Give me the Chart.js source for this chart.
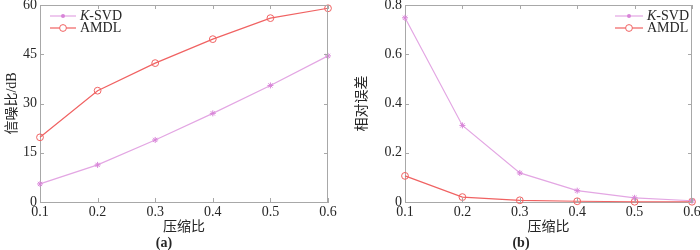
<!DOCTYPE html>
<html><head><meta charset="utf-8">
<script src="https://cdn.jsdelivr.net/npm/chart.js@4.4.1/dist/chart.umd.min.js"></script>
<style>
html,body{margin:0;padding:0;background:#fff;}
#wrap{position:relative;width:700px;height:250px;}
.c{position:absolute;top:0;width:350px;height:250px;}
</style></head>
<body><div id="wrap">
<div class="c" style="left:0"><canvas id="ca" width="350" height="250"></canvas></div>
<div class="c" style="left:350px"><canvas id="cb" width="350" height="250"></canvas></div>
</div>
<script>
const ratios = [0.1, 0.2, 0.3, 0.4, 0.5, 0.6];
const seriesNames = ['K-SVD', 'AMDL'];
const snrKSVD = [5.5, 11.3, 18.9, 27.0, 35.5, 44.5];
const snrAMDL = [19.7, 33.9, 42.3, 49.6, 56.0, 59.0];
const errKSVD = [0.748, 0.311, 0.118, 0.046, 0.017, 0.005];
const errAMDL = [0.106, 0.020, 0.007, 0.003, 0.001, 0.001];
const snrTicks = [0, 15, 30, 45, 60];
const errTicks = [0, 0.2, 0.4, 0.6, 0.8];

const PINK = '#d884d8', PINKL = '#e3a6e3', RED = '#f06262';
const GREY = '#a8a8a8', TXT = '#262626';
const SERIF = '"Liberation Serif", "Times New Roman", Times, serif';
const CJK = '"Liberation Serif", "Noto Sans CJK SC", serif';

function pts(vals){ return ratios.map((r,i)=>({x:r,y:vals[i]})); }

const frame = {
  id:'frame',
  afterDraw(chart){
    const {ctx, chartArea:a, scales:{x,y}} = chart;
    ctx.save();
    ctx.strokeStyle = GREY; ctx.lineWidth = 1;
    ctx.beginPath();
    ctx.moveTo(a.left, a.top+0.5); ctx.lineTo(a.right, a.top+0.5);
    ctx.moveTo(a.right-0.5, a.top); ctx.lineTo(a.right-0.5, a.bottom);
    const L = 4;
    x.ticks.forEach(t=>{ const px = Math.round(x.getPixelForValue(t.value))+0.5;
      ctx.moveTo(px, a.bottom); ctx.lineTo(px, a.bottom-L);
      ctx.moveTo(px, a.top); ctx.lineTo(px, a.top+L); });
    y.ticks.forEach(t=>{ const py = Math.round(y.getPixelForValue(t.value))+0.5;
      ctx.moveTo(a.left, py); ctx.lineTo(a.left+L, py);
      ctx.moveTo(a.right, py); ctx.lineTo(a.right-L, py); });
    ctx.stroke();
    const lg = chart.options.plugins.myLegend;
    chart.data.datasets.forEach((ds,i)=>{
      const yy = lg.y + i*12;
      ctx.strokeStyle = ds.borderColor; ctx.lineWidth = 1.2;
      ctx.beginPath(); ctx.moveTo(lg.x, yy); ctx.lineTo(lg.x+lg.w, yy); ctx.stroke();
      const mx = lg.x + lg.w/2;
      if (ds.pointStyle === 'circle'){
        ctx.beginPath(); ctx.fillStyle='#fff'; ctx.arc(mx, yy, 3.4, 0, Math.PI*2); ctx.fill();
        ctx.strokeStyle = ds.pointBorderColor; ctx.lineWidth = 1; ctx.stroke();
      } else {
        ctx.fillStyle = ds.pointBorderColor; ctx.beginPath(); ctx.arc(mx, yy, 2, 0, Math.PI*2); ctx.fill();
      }
      ctx.fillStyle = TXT; ctx.textBaseline = 'middle'; ctx.textAlign='left';
      let tx = lg.x + lg.w + 4;
      const name = ds.label;
      if (name.startsWith('K-')){
        ctx.font = 'italic 14px ' + SERIF; ctx.fillText('K', tx, yy);
        tx += ctx.measureText('K').width;
        ctx.font = '14px ' + SERIF; ctx.fillText(name.slice(1), tx, yy);
      } else {
        ctx.font = '14px ' + SERIF; ctx.fillText(name, tx, yy);
      }
    });
    ctx.restore();
  }
};

function makeChart(id, kVals, aVals, yTicks, yMax, yTitle, sub, yWidth, padRight, legend, fmt){
  return new Chart(document.getElementById(id), {
    type:'line',
    data:{ datasets:[
      {label:seriesNames[0], data:pts(kVals), borderColor:PINKL, pointBorderColor:PINK, pointBackgroundColor:PINK,
       pointStyle:'star', pointRadius:3, borderWidth:1.2, pointBorderWidth:1, clip:false, tension:0},
      {label:seriesNames[1], data:pts(aVals), borderColor:RED, pointBorderColor:RED, pointBackgroundColor:'rgba(255,255,255,0)',
       pointStyle:'circle', pointRadius:3.4, borderWidth:1.2, pointBorderWidth:1, clip:false, tension:0}
    ]},
    options:{
      responsive:false, animation:false, devicePixelRatio:1,
      layout:{padding:{top:5, right:padRight, left:0, bottom:0}},
      plugins:{
        legend:{display:false}, tooltip:{enabled:false},
        title:{display:true, position:'bottom', text:sub, color:TXT, padding:0,
          font:{family:SERIF, size:14, weight:'bold', lineHeight:1}},
        myLegend: legend
      },
      scales:{
        x:{type:'linear', min:0.1, max:0.6,
          afterBuildTicks(s){ s.ticks = ratios.map(v=>({value:v})); },
          afterFit(s){ s.height = 34; s.paddingRight = 0; s.paddingLeft = 0; },
          grid:{display:false, drawTicks:false},
          border:{display:true, color:GREY},
          ticks:{padding:2, color:TXT, font:{family:SERIF, size:14}, callback:v=>v.toFixed(1), maxRotation:0, autoSkip:false},
          title:{display:true, text:'压缩比', color:TXT, padding:{top:0,bottom:0}, font:{family:CJK, size:14}}
        },
        y:{type:'linear', min:0, max:yMax,
          afterBuildTicks(s){ s.ticks = yTicks.map(v=>({value:v})); },
          afterFit(s){ s.width = yWidth; s.paddingTop = 0; s.paddingBottom = 0; },
          grid:{display:false, drawTicks:false},
          border:{display:true, color:GREY},
          ticks:{padding:3, color:TXT, font:{family:SERIF, size:14}, callback:fmt, autoSkip:false},
          title:{display:true, text:yTitle, color:TXT, padding:{top:4,bottom:0}, font:{family:CJK, size:14}}
        }
      }
    },
    plugins:[frame]
  });
}

function build(){
  makeChart('ca', snrKSVD, snrAMDL, snrTicks, 60, '信噪比/dB', '(a)', 40, 22, {x:50, y:16, w:26}, v=>String(v));
  makeChart('cb', errKSVD, errAMDL, errTicks, 0.8, '相对误差', '(b)', 55, 8, {x:265, y:16, w:28}, v=>(v===0?'0':v.toFixed(1)));
}
Promise.all([
  document.fonts.load('14px "Liberation Serif"'),
  document.fonts.load('italic 14px "Liberation Serif"'),
  document.fonts.load('bold 14px "Liberation Serif"'),
  document.fonts.load('14px "Noto Sans CJK SC"', '压缩比信噪相对误差')
]).then(build, build);
</script>
</body></html>
